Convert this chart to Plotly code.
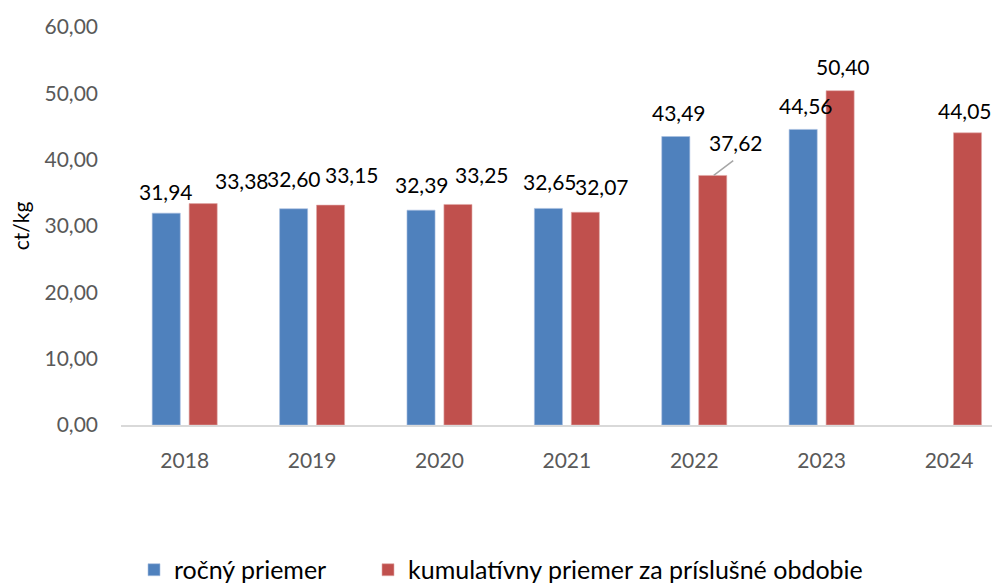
import plotly.graph_objects as go

# data
years = ["2018", "2019", "2020", "2021", "2022", "2023", "2024"]
annual_avg = [31.94, 32.60, 32.39, 32.65, 43.49, 44.56, None]
cumulative_avg = [33.38, 33.15, 33.25, 32.07, 37.62, 50.40, 44.05]

series_names = ["ročný priemer", "kumulatívny priemer za príslušné obdobie"]
y_ticks = [0, 10, 20, 30, 40, 50, 60]

# label nudges (px) so value labels sit where the original had them
annual_dx = [0, 0, 1, 2, 3, 3, 0]
annual_dy = [22, 30, 26, 27, 24, 24, 0]
cum_dx = [39, 21, 24, 17, 23, 3, -3]
cum_dy = [23, 31, 30, 26, 33, 24, 22]

BLUE = "#4F81BD"
RED = "#C0504D"
FONT = "Lato, 'Open Sans', sans-serif"
BARGAP = 0.42
BARGROUPGAP = 0.24
# the page body adds an 8px margin, so draw on 992x577
W, H = 992, 577


def fmt(v):
    return f"{v:.2f}".replace(".", ",")


fig = go.Figure()
fig.add_trace(go.Bar(name=series_names[0], x=years, y=annual_avg, legend="legend",
                     marker={"color": BLUE, "line": {"color": "#a9c0e0", "width": 0.6}}))
fig.add_trace(go.Bar(name=series_names[1], x=years, y=cumulative_avg, legend="legend2",
                     marker={"color": RED, "line": {"color": "#e0a9a7", "width": 0.6}}))

# bar centre offset within a category, derived from the bar gaps
offset = (1 - BARGAP) / 4

annotations = []
for vals, sign, dxs, dys in ((annual_avg, -1, annual_dx, annual_dy),
                             (cumulative_avg, 1, cum_dx, cum_dy)):
    for i, v in enumerate(vals):
        if v is None:
            continue
        annotations.append(dict(
            x=i + sign * offset, y=v, xref="x", yref="y",
            text=fmt(v), showarrow=False,
            xshift=dxs[i], yshift=dys[i], yanchor="middle",
            font={"family": FONT, "size": 21, "color": "#000000"},
        ))

# leader line for the 2022 cumulative label
i22 = years.index("2022")
annotations.append(dict(
    x=i22 + offset, y=cumulative_avg[i22], xref="x", yref="y",
    text="", showarrow=True, arrowhead=0, arrowwidth=1.5,
    arrowcolor="#a6a6a6", ax=21, ay=-16, xshift=1,
))

legend_common = {
    "orientation": "h",
    "xref": "container", "yref": "container",
    "y": 0.026, "yanchor": "middle", "xanchor": "left",
    "font": {"family": FONT, "size": 25, "color": "#000000"},
    "bgcolor": "rgba(0,0,0,0)",
}

fig.update_layout(
    width=W,
    height=H,
    barmode="group",
    bargap=BARGAP,
    bargroupgap=BARGROUPGAP,
    separators=", ",
    plot_bgcolor="white",
    paper_bgcolor="white",
    margin={"l": 113, "r": 0, "t": 19, "b": 160},
    font={"family": FONT, "color": "#595959"},
    annotations=annotations,
    showlegend=True,
    legend={**legend_common, "x": 126 / W},
    legend2={**legend_common, "x": 360 / W},
    xaxis={
        "type": "category",
        "range": [-0.5, 6.4],
        "showline": True,
        "linecolor": "#d9d9d9",
        "linewidth": 1.5,
        "showgrid": False,
        "ticks": "",
        "ticklabelstandoff": 16,
        "tickfont": {"family": FONT, "size": 21, "color": "#595959"},
    },
    yaxis={
        "range": [0, 60],
        "tickvals": y_ticks,
        "tickformat": ".2f",
        "showgrid": False,
        "zeroline": False,
        "showline": False,
        "ticks": "",
        "ticklabelstandoff": 22,
        "tickfont": {"family": FONT, "size": 21, "color": "#595959"},
        "title": {"text": "ct/kg", "standoff": 16,
                  "font": {"family": FONT, "size": 21, "color": "#000000"}},
    },
)

fig.write_html("out.html")
